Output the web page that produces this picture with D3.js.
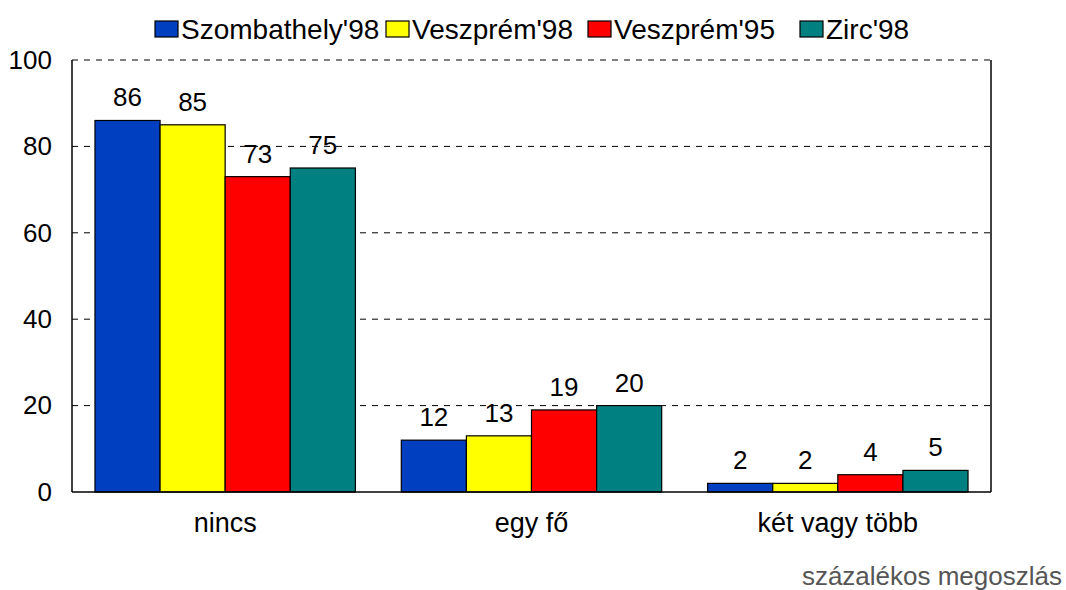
<!DOCTYPE html>
<html lang="hu">
<head>
    <meta charset="UTF-8">
    <title>Százalékos megoszlás</title>
    <script src="https://cdnjs.cloudflare.com/ajax/libs/d3/7.8.5/d3.min.js"></script>
    <style>
        body { margin: 0; background: #fff; }
        svg text { font-family: "Liberation Sans", Arial, sans-serif; fill: #000; }
    </style>
</head>
<body>
    <div id="chart"></div>
    <script>
        // categories and series
        const categories = ["nincs", "egy fő", "két vagy több"];
        const seriesNames = ["Szombathely'98", "Veszprém'98", "Veszprém'95", "Zirc'98"];
        const szombathely98 = [86, 12, 2];
        const veszprem98 = [85, 13, 2];
        const veszprem95 = [73, 19, 4];
        const zirc98 = [75, 20, 5];
        const yTicks = [0, 20, 40, 60, 80, 100];
        const colors = ["#0040C0", "#FFFF00", "#FF0000", "#008080"];

        const values = [szombathely98, veszprem98, veszprem95, zirc98];

        const W = 1066, H = 590;
        const margin = { top: 60, right: 75, bottom: 98, left: 72 };
        const width = W - margin.left - margin.right;
        const height = H - margin.top - margin.bottom;

        const svg = d3.select("#chart").append("svg")
            .attr("width", W)
            .attr("height", H);

        const g = svg.append("g")
            .attr("transform", `translate(${margin.left},${margin.top})`);

        const x0 = d3.scaleBand()
            .domain(categories)
            .range([0, width])
            .paddingInner(0.15)
            .paddingOuter(0.075);

        const x1 = d3.scaleBand()
            .domain(seriesNames)
            .range([0, x0.bandwidth()]);

        const y = d3.scaleLinear()
            .domain([0, 100])
            .range([height, 0]);

        // gridlines
        g.selectAll(".grid")
            .data(yTicks.filter(d => d > 0))
            .join("line")
            .attr("x1", 0)
            .attr("x2", width)
            .attr("y1", d => y(d))
            .attr("y2", d => y(d))
            .attr("stroke", "#000")
            .attr("stroke-width", 1)
            .attr("stroke-dasharray", "6,6");

        // y axis labels
        const yAxis = g.append("g")
            .call(d3.axisLeft(y).tickValues(yTicks).tickSize(0).tickPadding(20));
        yAxis.select(".domain").remove();
        yAxis.selectAll("text")
            .style("font-size", "26px")
            .attr("fill", "#000");

        // bars
        const groups = g.selectAll(".grp")
            .data(categories)
            .join("g")
            .attr("transform", d => `translate(${x0(d)},0)`);

        const cells = groups.selectAll("g")
            .data((c, ci) => seriesNames.map((s, si) => ({ s, si, v: values[si][ci] })))
            .join("g");

        cells.append("rect")
            .attr("x", d => x1(d.s))
            .attr("y", d => y(d.v))
            .attr("width", x1.bandwidth())
            .attr("height", d => height - y(d.v))
            .attr("fill", d => colors[d.si])
            .attr("stroke", "#000")
            .attr("stroke-width", 1.2);

        cells.append("text")
            .attr("x", d => x1(d.s) + x1.bandwidth() / 2)
            .attr("y", d => y(d.v) - 14)
            .attr("text-anchor", "middle")
            .style("font-size", "26px")
            .text(d => d.v);

        // axis frame
        g.append("line")
            .attr("x1", 0).attr("x2", 0)
            .attr("y1", 0).attr("y2", height)
            .attr("stroke", "#000").attr("stroke-width", 1.5);
        g.append("line")
            .attr("x1", width).attr("x2", width)
            .attr("y1", 0).attr("y2", height)
            .attr("stroke", "#000").attr("stroke-width", 1.5);
        g.append("line")
            .attr("x1", 0).attr("x2", width)
            .attr("y1", height).attr("y2", height)
            .attr("stroke", "#000").attr("stroke-width", 1.5);

        // category labels
        g.selectAll(".cat")
            .data(categories)
            .join("text")
            .attr("x", d => x0(d) + x0.bandwidth() / 2)
            .attr("y", height + 40)
            .attr("text-anchor", "middle")
            .style("font-size", "27px")
            .text(d => d);

        // legend (item offsets match the original spacing)
        const legendX = [0, 231, 433, 645];
        const legend = svg.append("g").attr("transform", "translate(155,21)");
        seriesNames.forEach((s, i) => {
            const item = legend.append("g").attr("transform", `translate(${legendX[i]},0)`);
            item.append("rect")
                .attr("width", 23).attr("height", 16)
                .attr("fill", colors[i])
                .attr("stroke", "#000")
                .attr("stroke-width", 1.2);
            item.append("text")
                .attr("x", 26)
                .attr("y", 18)
                .style("font-size", "28px")
                .text(s);
        });

        // footnote
        svg.append("text")
            .attr("x", 1062)
            .attr("y", 585)
            .attr("text-anchor", "end")
            .style("font-size", "26px")
            .style("fill", "#555")
            .text("százalékos megoszlás");
    </script>
</body>
</html>
